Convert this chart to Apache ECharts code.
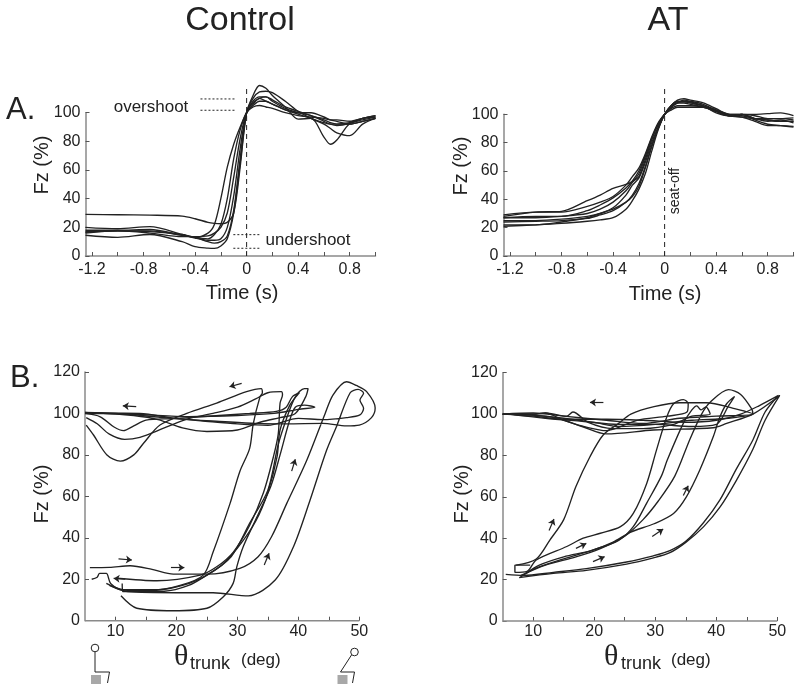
<!DOCTYPE html>
<html>
<head>
    <meta charset="utf-8">
    <title>Fz traces</title>
    <script type="text/javascript" src="https://cdn.jsdelivr.net/npm/echarts@6/dist/echarts.min.js"></script>
    <style>
        html, body { margin: 0; padding: 0; background: #fff; }
    </style>
</head>
<body>
<div id="main" style="height:691px; width:800px;"></div>
<script type="text/javascript">
// panel A, control: Fz (%) against time (s)
var controlTime = [-1.25,-1.0,-0.75,-0.5,-0.4,-0.3,-0.25,-0.2,-0.15,-0.1,-0.05,0,0.05,0.1,0.15,0.2,0.3,0.4,0.5,0.6,0.65,0.7,0.8,0.9,1.0];
var controlFz1 = [14.5,13,15,10,6.5,5.5,5.3,7,12,30,65,100,112,119,117,112,104,95.5,96,83,78,81,92.5,96,97];
var controlFz2 = [29,28.8,28.5,27.8,26,23.5,22.8,22.5,23.5,30,62,100,110,114.5,115,114,108,101,96,92,89,86,84,92,96];
var controlFz3 = [16.5,17.5,17.5,14.5,13,16,22,40,62,78,90,100,106,110,108,106,102,100,100,97,95,94,92,94,96];
var controlFz4 = [20,19,20.5,15,12.5,11,11,12,20,42,75,100,108,111,111,109,104,101,98,94,92,91,92.5,96,98];
var controlFz5 = [18,18,18.5,14.5,13,10,9,10,14,32,68,100,107,110,111,108,103,100,98,95,93,92,92,94,96];
var controlFz6 = [17,17.5,17,15,13,12,15,22,40,68,88,100,104,105,104,103,100,98,97,96,95,95,94,96,98];
var controlFz7 = [16,17.5,16,13.5,13.5,14,16,20,30,55,82,100,105,108,108,106,102,99,96,93,92,92,93,95,97];

// panel A, AT
var atTime = [-1.25,-1.0,-0.8,-0.6,-0.5,-0.4,-0.3,-0.25,-0.2,-0.15,-0.1,-0.05,0,0.05,0.1,0.15,0.2,0.3,0.4,0.5,0.6,0.7,0.8,0.9,1.0];
var atFz1 = [28,31,31.5,39,43,47.7,50.5,52.5,56,68,82,93,100,106,110,111,110,108,104,100,100,96,93,92,91];
var atFz2 = [29,31,31,35,38,42,50,56,62,72,84,94,100,105,108,109,109,107,103,100,100,97,95,96,94];
var atFz3 = [27,28,28,32,36,41,48,53,60,71,83,93,100,104,106,106,106,105,102,99,100,100,100.5,101,99];
var atFz4 = [27,27,28,30,33,38,46,52,58,70,83,93,100,103,105,105,105,105,103,100,99,97,96,95,95];
var atFz5 = [25,25,26,28,30,34,43,50,55,66,80,91,100,106,109,109,108,106,103,99,98,97,97,97,97.5];
var atFz6 = [24,24.5,25,26.5,29,32,38,43,51,63,78,90,100,105,108,110,109,106,102,99,98,95,92,92,91.5];
var atFz7 = [22,22,24,27,30,33,38,42,49,62,77,90,100,106,109,109,108,106,101,99,100,97,96,95,95];
var atFz8 = [21,22,23,24.5,25.5,27,33,39,47,58,74,89,100,105,108,108,107,105,102,99,100,99,97,97,96];

// panel B, control: [trunk angle, Fz]
var loopControl1 = [[6.1,20],[7,21],[7.4,22.8],[8.5,22.8],[9.2,18],[11.3,14.8],[15.7,14.5],[20.6,17],[24.4,22],[26,33],[28.8,56.6],[30.4,72],[32,83],[32.6,95],[33.7,108],[34.1,110],[33.9,112],[31.5,110.5],[26.6,105],[21.7,100],[17.3,94.4],[14.6,85.6],[13,80],[10.8,77],[8.6,80],[6.4,89.6],[5.2,94.4]];
var loopControl2 = [[10.2,20.5],[16.8,19.3],[23.9,22],[26.6,26],[29.3,33],[32,46],[34.3,62],[35.9,79],[36.7,90],[37,105],[37.4,109],[37.2,110.5],[35,110],[33,107],[30,103],[26,100],[22,97.5],[18,93],[14,88.5],[11.5,87.5],[9,90],[7,95],[5.2,98]];
var loopControl3 = [[11.1,18],[11.2,14],[18,14.2],[22,17],[25,22],[27.5,27],[30,35],[33,48],[35,62],[36.5,79],[37,92],[38.6,104],[40,109.5],[40.2,110],[39,108],[38,103],[36.4,101],[32,100],[27,99],[19.5,97.5],[15,96.8],[13,94],[11.3,91.7],[9.7,93.6],[7.5,98.4],[5,100]];
var loopControl4 = [[8.5,18],[11.3,15],[17,15],[21,17],[25,22],[29,31],[32,47],[35,63],[36.7,85],[38,97],[39.5,108],[41,112],[41.6,112],[41.2,108],[39.5,100],[37,98],[34,96],[30,92],[25,91.3],[21,93],[17,97],[13,99],[8,100],[5,100]];
var loopControl5 = [[5.8,25.6],[9,25.7],[12.4,26.5],[16,24.8],[19.5,22.5],[25,22.5],[30.4,25.3],[33.4,30.9],[35.6,40.5],[38.1,56.6],[41.4,77.5],[44.4,100],[45.7,109],[47.9,115.3],[49.5,113.5],[51.2,110.5],[52.6,102.6],[52,98],[50,94.4],[47.9,94],[44,95.2],[38,95],[33,95.2],[28,96],[20,97.5],[14,100],[5,100.2]];
var loopControl6 = [[10.9,12],[13.5,6],[19.5,4.8],[25,6],[27.7,11.6],[29.3,18],[29.9,26],[31,36],[33.2,50],[35.5,65],[37,80],[38.5,96],[39.5,103],[41,104],[42.7,103],[40,102],[36,100],[30,99],[22,98.5],[14,99.5],[8,100],[5,100.5]];
var loopControl7 = [[9,17],[12,14],[20,13.5],[26,13.5],[31.8,12],[36.2,19.6],[39.2,35.7],[41.9,58],[44.6,82],[46.3,94],[48.5,110],[49.8,111.6],[50.7,109.7],[50.1,106.5],[50.7,102.5],[50.1,99.3],[47.9,98],[44,97],[40,97.6],[35,94.3],[30,95],[24,96.5],[18,98],[10,100],[5,100.5]];

// panel B, AT
var loopAt1 = [[7.2,27],[10.5,30],[12.7,39],[15,49],[17,65],[19.3,79.4],[21.5,90],[24,95.5],[26,100],[29.8,103.6],[34,105.5],[38.4,105.5],[42.8,102.8],[46,100],[42,98],[36,97],[30,95],[24,94],[20,96],[15,98],[10,99.5],[5,100]];
var loopAt2 = [[9.5,27],[7,27],[7,23.5],[9,24],[10.5,29.5],[15.5,36],[18.2,40],[21,42.4],[24.3,45.6],[26.4,52],[28.6,66.5],[30.2,82.6],[31.9,98.7],[33,105],[34.6,107],[35.4,105],[35.2,101],[32,99],[27,97],[22,92],[19,93.5],[15,97],[12,100.5],[10,100],[5,100]];
var loopAt3 = [[7.8,21],[10,25],[15,30],[20,34.5],[24,39],[26.4,45.6],[28.6,57],[31,70],[32,78],[34.6,95.5],[36,102],[36.8,104],[37.5,102],[38.3,103.5],[39,100],[36,99],[33,95],[28,93],[23,93],[19,96],[16.5,101],[15.5,99],[12,100.5],[10,100],[5,100]];
var loopAt4 = [[8.8,23],[11,27],[15,31],[19.5,34],[23,38],[26,43],[29.8,47],[33,52],[35.1,60],[37.3,73],[39.5,89],[40.6,98.7],[41.7,105],[43,108.5],[42,104],[40,95],[36,94],[30,95],[24,95],[18,96.5],[12,98],[6,100]];
var loopAt5 = [[8,22],[12,27],[17,31],[21,35],[25,41],[28,49],[30.5,58],[33.2,70],[35.7,88],[37.6,100],[39,105.7],[42,111.8],[44,109.5],[45.8,102.5],[46,100],[40,99],[34,98],[28,95.5],[22,97],[15,99],[10,100.5],[5,100]];
var loopAt6 = [[5.5,22.5],[8.4,22],[13.3,23.5],[18.7,25.3],[25.3,28.5],[29.7,31.5],[32.4,34],[35,38.5],[37.9,47.5],[40.6,58.5],[43.3,73.5],[46,87.5],[48,101],[50.2,109],[47,104],[44,100],[40,97],[35,96],[28,97],[22,97.5],[15,97.5],[10,99],[5,100]];
var loopAt7 = [[7.7,21],[13.3,23],[18.7,24.5],[25.3,27.5],[29.7,30.5],[32.4,33],[35,38],[37.9,45.5],[40.6,55],[43.3,68],[46,83],[48,97],[50.4,109],[46,100],[41.7,95.5],[39.5,93.4],[29.7,92.3],[22,90.4],[18,94],[14,98],[10,99.5],[5,100]];

// direction arrows, [x1, y1, x2, y2]
var arrowsControl = [[30.7,114.5,28.7,112.9],[13.4,103.3,11.2,103.7],[10.5,29.8,12.7,29.3],[19.1,25.7,21.3,25.6],[11.6,20.1,9.7,20.4],[38.9,72.2,39.5,77.9],[34.4,26.9,35.2,32.5]];
var arrowsAt = [[21.5,105.5,19.3,105.7],[12.6,43.7,13.4,49.3],[17,35.1,18.7,37.5],[19.8,28.7,21.7,31.1],[29.5,40.8,31.3,44.5],[34.6,60.6,35.4,65.4]];

// overshoot / undershoot bounds, [x1, x2, y]
var dottedControl = [[-0.358,-0.093,109.6],[-0.358,-0.093,101.7],[-0.103,0.1,14.9],[-0.103,0.1,5.4]];

// axis ticks
var timeTicks = [-1.2,-1.0,-0.8,-0.6,-0.4,-0.2,0,0.2,0.4,0.6,0.8,1.0];
var timeLabels = [-1.2,-0.8,-0.4,0,0.4,0.8];
var angleTicks = [10,15,20,25,30,35,40,45,50];
var angleLabels = [10,20,30,40,50];
var angleBaseline = [[5,0],[50,0]];

var ink = '#222';
var axisGray = '#8a8a8a';
var fontName = '"Liberation Sans", Arial, sans-serif';

function timeXAxis(index) {
    return {
        gridIndex: index, type: 'value', min: -1.25, max: 1.0,
        splitLine: {show: false},
        axisLine: {onZero: false, lineStyle: {color: axisGray, width: 1.5}},
        axisTick: {inside: true, length: 4, customValues: timeTicks, lineStyle: {color: '#555'}},
        axisLabel: {
            customValues: timeLabels, margin: 6, color: ink, fontSize: 16, fontFamily: fontName,
            formatter: function(v) { return v === 0 ? '0' : v.toFixed(1); }
        }
    };
}
// the loops run past 50 deg, so the scale goes to 53 and the axis line stops at 50
function angleXAxis(index) {
    return {
        gridIndex: index, type: 'value', min: 5, max: 53,
        splitLine: {show: false},
        axisLine: {show: false, onZero: false},
        axisTick: {show: true, inside: true, length: 4, customValues: angleTicks, lineStyle: {color: '#555'}},
        axisLabel: {customValues: angleLabels, margin: 3, color: ink, fontSize: 16, fontFamily: fontName}
    };
}
function fzYAxis(index, top) {
    return {
        gridIndex: index, type: 'value', min: 0, max: top, interval: 20,
        splitLine: {show: false},
        axisLine: {show: true, onZero: false, lineStyle: {color: axisGray, width: 1.5}},
        axisTick: {show: true, inside: true, length: 4, lineStyle: {color: '#555'}},
        axisLabel: {margin: 5, color: ink, fontSize: 16, fontFamily: fontName}
    };
}
function traceSeries(index, points) {
    return {
        type: 'line', xAxisIndex: index, yAxisIndex: index, data: points,
        showSymbol: false, smooth: 0.3, clip: false, silent: true, animation: false,
        lineStyle: {color: ink, width: 1.35}, z: 3
    };
}
function zipTime(times, values) {
    return times.map(function(t, k) { return [t, values[k]]; });
}
function arrowSeries(index, list) {
    return {
        type: 'line', xAxisIndex: index, yAxisIndex: index, data: [], clip: false, silent: true, animation: false,
        markLine: {
            silent: true, animation: false, symbol: ['none', 'arrow'], symbolSize: 6,
            label: {show: false}, lineStyle: {color: ink, width: 1.2, type: 'solid'},
            data: list.map(function(a) {
                return [{coord: [a[0], a[1]]}, {coord: [a[2], a[3]]}];
            })
        }
    };
}
function dashedSeries(index, points, dash, width) {
    return {
        type: 'line', xAxisIndex: index, yAxisIndex: index, data: points,
        showSymbol: false, clip: false, silent: true, animation: false,
        lineStyle: {color: ink, width: width, type: dash}
    };
}
function baselineSeries(index) {
    return {
        type: 'line', xAxisIndex: index, yAxisIndex: index, data: angleBaseline,
        showSymbol: false, clip: false, silent: true, animation: false,
        lineStyle: {color: axisGray, width: 1.5}
    };
}
function label(text, x, y, size, rotate) {
    return {
        type: 'text', x: x, y: y, rotation: rotate ? Math.PI / 2 : 0, silent: true,
        style: {text: text, fill: ink, font: size + 'px ' + fontName, align: 'center', verticalAlign: 'middle'}
    };
}
function thetaLabel(x1, x2, x3) {
    return [
        {type: 'text', x: x1, y: 657, silent: true,
         style: {text: '\u03b8', fill: ink, font: '30px "Liberation Serif", serif', align: 'left', verticalAlign: 'middle'}},
        {type: 'text', x: x2, y: 664, silent: true,
         style: {text: 'trunk', fill: ink, font: '18px ' + fontName, align: 'left', verticalAlign: 'middle'}},
        {type: 'text', x: x3, y: 660, silent: true,
         style: {text: '(deg)', fill: ink, font: '17px ' + fontName, align: 'left', verticalAlign: 'middle'}}
    ];
}
function sitter(cx, cy, trunk, sx, sy) {
    return [
        {type: 'circle', silent: true, shape: {cx: cx, cy: cy, r: 3.8}, style: {fill: '#fff', stroke: ink, lineWidth: 1}},
        {type: 'polyline', silent: true, shape: {points: trunk}, style: {fill: null, stroke: ink, lineWidth: 1}},
        {type: 'rect', silent: true, shape: {x: sx, y: sy, width: 10, height: 9}, style: {fill: '#a8a8a8'}}
    ];
}

var myChart = echarts.init(document.getElementById('main'), null, {renderer: 'canvas'});

var series = [];
[controlFz1, controlFz2, controlFz3, controlFz4, controlFz5, controlFz6, controlFz7].forEach(function(v) {
    series.push(traceSeries(0, zipTime(controlTime, v)));
});
[atFz1, atFz2, atFz3, atFz4, atFz5, atFz6, atFz7, atFz8].forEach(function(v) {
    series.push(traceSeries(1, zipTime(atTime, v)));
});
[loopControl1, loopControl2, loopControl3, loopControl4, loopControl5, loopControl6, loopControl7].forEach(function(v) {
    series.push(traceSeries(2, v));
});
[loopAt1, loopAt2, loopAt3, loopAt4, loopAt5, loopAt6, loopAt7].forEach(function(v) {
    series.push(traceSeries(3, v));
});
series.push(dashedSeries(0, [[0, 0], [0, 119]], [5, 4], 1));
series.push(dashedSeries(1, [[0, 0], [0, 120]], [5, 4], 1));
dottedControl.forEach(function(d) {
    series.push(dashedSeries(0, [[d[0], d[2]], [d[1], d[2]]], [2, 2], 1));
});
series.push(baselineSeries(2));
series.push(baselineSeries(3));
series.push(arrowSeries(2, arrowsControl));
series.push(arrowSeries(3, arrowsAt));

var graphics = [
    label('Control', 240, 21, 34),
    label('AT', 668, 21, 34),
    {type: 'text', x: 6, y: 110, silent: true, style: {text: 'A.', fill: ink, font: '31px ' + fontName, align: 'left', verticalAlign: 'middle'}},
    {type: 'text', x: 10, y: 378, silent: true, style: {text: 'B.', fill: ink, font: '31px ' + fontName, align: 'left', verticalAlign: 'middle'}},
    label('overshoot', 151, 107, 17),
    label('undershoot', 308, 240, 17),
    label('seat-off', 675, 191, 14, true),
    label('Fz (%)', 42, 165, 20, true),
    label('Fz (%)', 461, 166, 20, true),
    label('Fz (%)', 42, 494, 20, true),
    label('Fz (%)', 462, 494, 20, true),
    label('Time (s)', 242, 293, 20),
    label('Time (s)', 665, 294, 20)
];
graphics = graphics.concat(thetaLabel(174, 190, 241), thetaLabel(604, 621, 671));
graphics = graphics.concat(sitter(95, 648, [[95, 652], [95, 672], [109.5, 672], [107.5, 683]], 91, 675));
graphics = graphics.concat(sitter(354.5, 652, [[351.5, 655], [340.5, 672], [354.5, 672], [352.5, 683]], 337.5, 675));

myChart.setOption({
    animation: false,
    backgroundColor: '#fff',
    grid: [
        {left: 85.5, top: 112.7, width: 290, height: 143.3},
        {left: 503.5, top: 114.3, width: 290, height: 141.7},
        {left: 85, top: 372, width: 292.6, height: 248.7},
        {left: 502.7, top: 372.7, width: 292.9, height: 248.3}
    ],
    xAxis: [timeXAxis(0), timeXAxis(1), angleXAxis(2), angleXAxis(3)],
    yAxis: [fzYAxis(0, 100), fzYAxis(1, 100), fzYAxis(2, 120), fzYAxis(3, 120)],
    series: series,
    graphic: graphics
});
</script>
</body>
</html>
